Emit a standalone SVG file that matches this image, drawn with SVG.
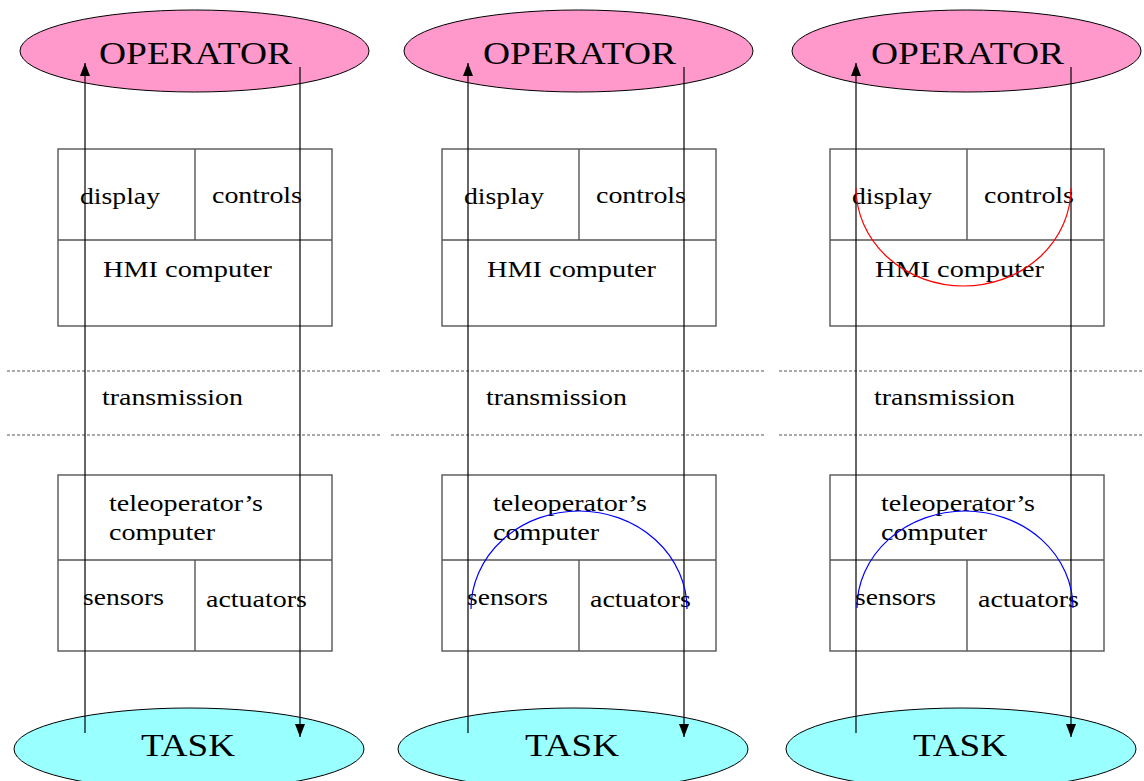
<svg xmlns="http://www.w3.org/2000/svg" width="1144" height="781" viewBox="0 0 1144 781">
<style>
text{font-family:"Liberation Serif","Times New Roman",serif;fill:#000}
.big{font-size:32px}
.sm{font-size:23px}
.op{fill:#ff99cc;stroke:#000;stroke-width:1}
.task{fill:#99ffff;stroke:#000;stroke-width:1}
.box{fill:none;stroke:#555;stroke-width:1.4}
.dash{stroke:#555;stroke-width:1;stroke-dasharray:3,2;fill:none}
.arr{stroke:#000;stroke-width:1.2;fill:none;marker-end:url(#ah)}
.red{stroke:#ff0000;stroke-width:1.2;fill:none}
.blue{stroke:#0000ff;stroke-width:1.2;fill:none}
</style>
<defs>
<marker id="ah" viewBox="0 0 13 10" refX="13" refY="5" markerWidth="13" markerHeight="10" markerUnits="userSpaceOnUse" orient="auto">
<path d="M0,0 L13,5 L0,10 z" fill="#000"/>
</marker>
<g id="panel">
<g id="operator"><ellipse class="op" cx="194.5" cy="51" rx="174.5" ry="41"/><text class="big" x="99" y="64" textLength="193" lengthAdjust="spacingAndGlyphs">OPERATOR</text></g>
<g id="hmi"><rect class="box" x="58" y="149" width="274" height="177"/><line class="box" x1="58" y1="240" x2="332" y2="240"/><line class="box" x1="195" y1="149" x2="195" y2="240"/>
<text class="sm" x="80" y="204" textLength="80" lengthAdjust="spacingAndGlyphs">display</text>
<text class="sm" x="212" y="203" textLength="90" lengthAdjust="spacingAndGlyphs">controls</text>
<text class="sm" x="103" y="277" textLength="169" lengthAdjust="spacingAndGlyphs">HMI computer</text></g>
<g id="transmission"><line class="dash" x1="7" y1="371" x2="380" y2="371"/><line class="dash" x1="7" y1="435" x2="380" y2="435"/>
<text class="sm" x="102" y="405" textLength="141" lengthAdjust="spacingAndGlyphs">transmission</text></g>
<g id="tele"><rect class="box" x="58" y="475" width="274" height="176"/><line class="box" x1="58" y1="560" x2="332" y2="560"/><line class="box" x1="195" y1="560" x2="195" y2="651"/>
<text class="sm" x="109" y="511" textLength="154" lengthAdjust="spacingAndGlyphs">teleoperator’s</text>
<text class="sm" x="109" y="540" textLength="106" lengthAdjust="spacingAndGlyphs">computer</text>
<text class="sm" x="83" y="605" textLength="81" lengthAdjust="spacingAndGlyphs">sensors</text>
<text class="sm" x="206" y="607" textLength="101" lengthAdjust="spacingAndGlyphs">actuators</text></g>
<g id="task"><ellipse class="task" cx="189" cy="749" rx="175" ry="41"/><text class="big" x="141" y="756" textLength="94" lengthAdjust="spacingAndGlyphs">TASK</text></g>
</g>
</defs>
<g id="panel1"><use href="#panel"/></g>
<g id="panel2"><use href="#panel" x="384"/></g>
<g id="panel3"><use href="#panel" x="772"/></g>
<g id="connectors">
<path class="arr" d="M85,733 L85,63"/>
<path class="arr" d="M300,67 L300,737"/>
<path class="arr" d="M468,733 L468,63"/>
<path class="arr" d="M684,67 L684,737"/>
<path class="arr" d="M856,733 L856,63"/>
<path class="arr" d="M1071,67 L1071,737"/>
<path class="blue" d="M471,609 A108,98 0 0,1 687,609"/>
<path class="blue" d="M857,608 A108,97 0 0,1 1073,608"/>
<path class="red" d="M856,188 A107.5,98 0 0,0 1071,188"/>
</g>
</svg>
